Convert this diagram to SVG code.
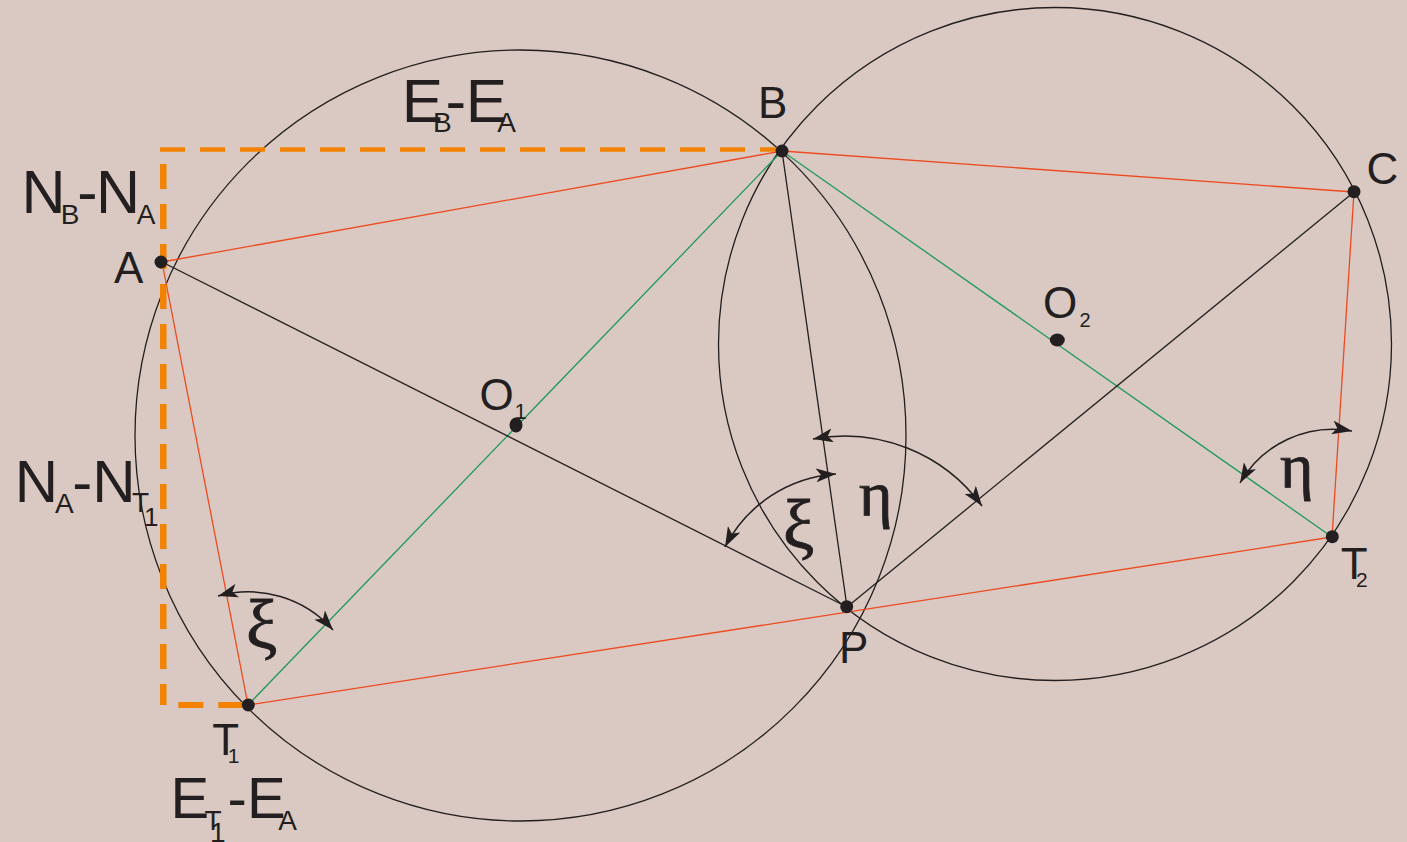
<svg xmlns="http://www.w3.org/2000/svg" width="1407" height="842" viewBox="0 0 1407 842">
<style>
.bg{fill:#d9c9c2}
.circ{fill:none;stroke:#231f20;stroke-width:1.3}
.blk{stroke:#231f20;stroke-width:1.3;fill:none}
.red{stroke:#ee4a1f;stroke-width:1.3;fill:none}
.grn{stroke:#1f995c;stroke-width:1.3;fill:none}
.ang{stroke:#231f20;stroke-width:1.5;fill:none;marker-start:url(#ah);marker-end:url(#ah)}
.org{stroke:#f28200;fill:none;stroke-dasharray:25 15}
.dot{fill:#231f20}
text{font-family:"Liberation Sans",Arial,sans-serif;fill:#231f20}
.lbl{font-size:44px}
.gr{font-family:"Liberation Serif","Times New Roman",serif;stroke:#231f20;stroke-width:0.9}
.xi{font-size:70px}
.eta{font-size:64px}
</style>
<defs>
<marker id="ah" viewBox="0 0 20 14" refX="20" refY="7" markerWidth="20" markerHeight="14" markerUnits="userSpaceOnUse" orient="auto-start-reverse">
<path d="M0,0 L20,7 L0,14 L5,7 Z" fill="#231f20"/>
</marker>
</defs>
<rect class="bg" x="0" y="0" width="1407" height="842"/>
<g id="circles">
<circle class="circ" cx="520.5" cy="435.5" r="385.5"/>
<circle class="circ" cx="1055" cy="344" r="336.5"/>
</g>
<g id="connectors">
<line class="red" x1="162" y1="262" x2="782" y2="151"/>
<line class="red" x1="782" y1="151" x2="1354" y2="192"/>
<line class="red" x1="1354" y1="192" x2="1332" y2="537"/>
<line class="red" x1="1332" y1="537" x2="248" y2="705"/>
<line class="red" x1="248" y1="705" x2="162" y2="262"/>
<line class="grn" x1="782" y1="151" x2="248" y2="705"/>
<line class="grn" x1="782" y1="151" x2="1332" y2="537"/>
<line class="blk" x1="162" y1="262" x2="847" y2="607"/>
<line class="blk" x1="782" y1="151" x2="847" y2="607"/>
<line class="blk" x1="1354" y1="192" x2="847" y2="607"/>
<path class="org" style="stroke-width:4.5" d="M160,149.5 H782"/>
<path class="org" style="stroke-width:6.5;stroke-dashoffset:25" d="M163.3,149 V705"/>
<path class="org" style="stroke-width:6;stroke-dashoffset:25" d="M163.3,705 H248"/>
<path class="ang" d="M218,596 A113,113 0 0 1 333,630"/>
<path class="ang" d="M725,547 A135,135 0 0 1 836,474"/>
<path class="ang" d="M813,439 A170,170 0 0 1 982,506"/>
<path class="ang" d="M1240,483 A107,107 0 0 1 1352,431"/>
</g>
<g id="node-A"><circle class="dot" cx="161" cy="262" r="6.5"/><text class="lbl" x="114" y="282.7">A</text></g>
<g id="node-B"><circle class="dot" cx="782" cy="151" r="6.5"/><text class="lbl" x="758" y="117.7">B</text></g>
<g id="node-C"><circle class="dot" cx="1354" cy="191.7" r="6.5"/><text class="lbl" x="1366.5" y="184.3">C</text></g>
<g id="node-T1"><circle class="dot" cx="248.3" cy="705" r="6.5"/><text class="lbl" x="212.3" y="755">T</text><text x="227.7" y="763.3" font-size="21">1</text></g>
<g id="node-T2"><circle class="dot" cx="1332.3" cy="536.7" r="6.5"/><text class="lbl" x="1340.7" y="579">T</text><text x="1356" y="586.7" font-size="21">2</text></g>
<g id="node-P"><circle class="dot" cx="846.7" cy="606.7" r="6.5"/><text class="lbl" x="839" y="663.3">P</text></g>
<g id="node-O1"><ellipse class="dot" cx="516" cy="425" rx="6.5" ry="7.5"/><text class="lbl" x="479.5" y="410">O</text><text x="514.6" y="419" font-size="22">1</text></g>
<g id="node-O2"><ellipse class="dot" cx="1057.3" cy="340" rx="7.5" ry="6.5"/><text class="lbl" x="1043" y="318">O</text><text x="1079.4" y="326.7" font-size="20">2</text></g>
<g id="label-NB-NA">
<text x="21.4" y="213.3" font-size="61">N</text><text x="60.7" y="224" font-size="28">B</text><text x="77.3" y="213.3" font-size="61">-</text><text x="96.1" y="213.3" font-size="61">N</text><text x="136.7" y="224" font-size="28">A</text>
</g>
<g id="label-EB-EA">
<text x="401.8" y="121.7" font-size="62">E</text><text x="433" y="131.7" font-size="28">B</text><text x="445.5" y="121.7" font-size="62">-</text><text x="465.8" y="121.7" font-size="62">E</text><text x="497.3" y="131.7" font-size="28">A</text>
</g>
<g id="label-NA-NT1">
<text x="14.8" y="501.7" font-size="60">N</text><text x="55" y="512.7" font-size="28">A</text><text x="72.3" y="501.7" font-size="60">-</text><text x="92.2" y="501.7" font-size="60">N</text><text x="132" y="512.3" font-size="28">T</text><text x="143.9" y="526" font-size="26">1</text>
</g>
<g id="label-ET1-EA">
<text x="170.4" y="818.3" font-size="58">E</text><text x="204.4" y="830" font-size="28">T</text><text x="210" y="842" font-size="28">1</text><text x="227.4" y="818.3" font-size="58">-</text><text x="247" y="818.3" font-size="58">E</text><text x="278.3" y="830" font-size="28">A</text>
</g>
<g id="angles">
<text class="gr xi" x="246" y="648">ξ</text>
<text class="gr xi" x="783" y="548">ξ</text>
<text class="gr eta" x="859" y="515">η</text>
<text class="gr eta" x="1280" y="487">η</text>
</g>
</svg>
